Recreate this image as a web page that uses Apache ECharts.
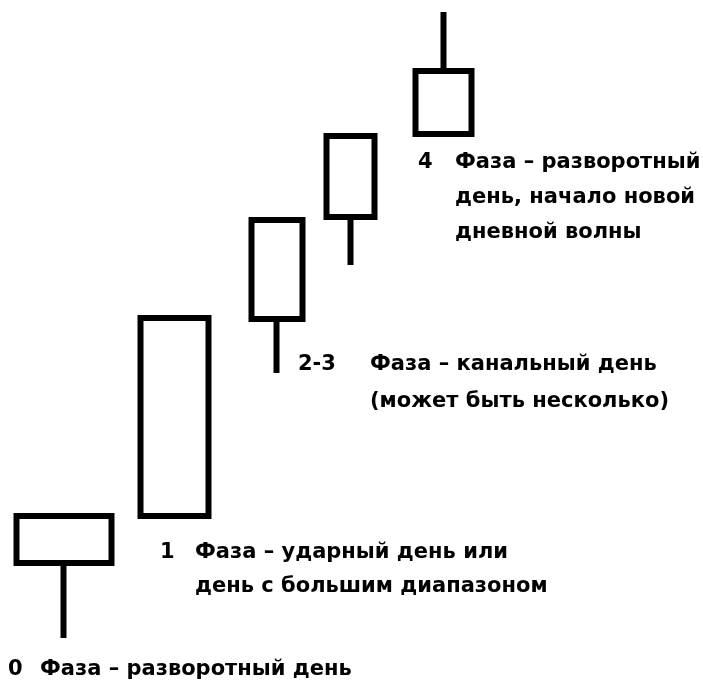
<!DOCTYPE html>
<html><head><meta charset="utf-8">
<script src="https://cdn.jsdelivr.net/npm/echarts@6/dist/echarts.min.js"></script>
<style>html,body{margin:0;padding:0;background:#fff}#c{width:703px;height:686px}</style>
</head><body><div id="c"></div>
<script>
// Candle data (x position on a value axis, open, close, low, high)
const candleX = [64, 174.5, 277, 350.5, 443.5];
const openV  = [123, 170, 367, 469, 552];
const closeV = [170, 368, 466, 550, 615];
const lowV   = [48, 170, 313, 421, 552];
const highV  = [170, 368, 466, 550, 674];

// Annotation texts
const phaseNums = ['0', '1', '2-3', '4'];
const phaseLines = [
  ['Фаза – разворотный день'],
  ['Фаза – ударный день или', 'день с большим диапазоном'],
  ['Фаза – канальный день', '(может быть несколько)'],
  ['Фаза – разворотный', 'день, начало новой', 'дневной волны']
];

// Styling / layout (not data)
const candleWidths = [96, 69, 52, 49, 57];
const numPos = [[8, 670], [160, 553], [298, 365], [418, 163]];
const textPos = [[40, 670], [195, 553], [370, 365], [455, 163]];
const lineGap = [0, 34, 37, 35];
const FONT = '"DejaVu Sans", Verdana, sans-serif';
const FS = 21;

const chart = echarts.init(document.getElementById('c'), null, {renderer: 'canvas'});

const series = candleX.map((x, i) => ({
  type: 'candlestick',
  silent: true,
  animation: false,
  barWidth: candleWidths[i],
  itemStyle: {
    color: '#ffffff', color0: '#ffffff',
    borderColor: '#000000', borderColor0: '#000000', borderColorDoji: '#000000',
    borderWidth: 6
  },
  data: [[x, openV[i], closeV[i], lowV[i], highV[i]]]
}));

const graphics = [];
phaseNums.forEach((n, i) => {
  graphics.push({
    type: 'text', x: numPos[i][0], y: numPos[i][1], silent: true,
    style: {text: n, fill: '#000', font: 'bold ' + FS + 'px ' + FONT, verticalAlign: 'middle', align: 'left'}
  });
  phaseLines[i].forEach((line, j) => {
    graphics.push({
      type: 'text', x: textPos[i][0], y: textPos[i][1] + j * lineGap[i], silent: true,
      style: {text: line, fill: '#000', font: 'bold ' + FS + 'px ' + FONT, verticalAlign: 'middle', align: 'left'}
    });
  });
});

chart.setOption({
  backgroundColor: '#ffffff',
  animation: false,
  grid: {left: 0, right: 0, top: 0, bottom: 0},
  xAxis: {type: 'value', min: 0, max: 703, show: false},
  yAxis: {type: 'value', min: 0, max: 686, show: false},
  series: series,
  graphic: graphics
});
</script>
</body></html>
